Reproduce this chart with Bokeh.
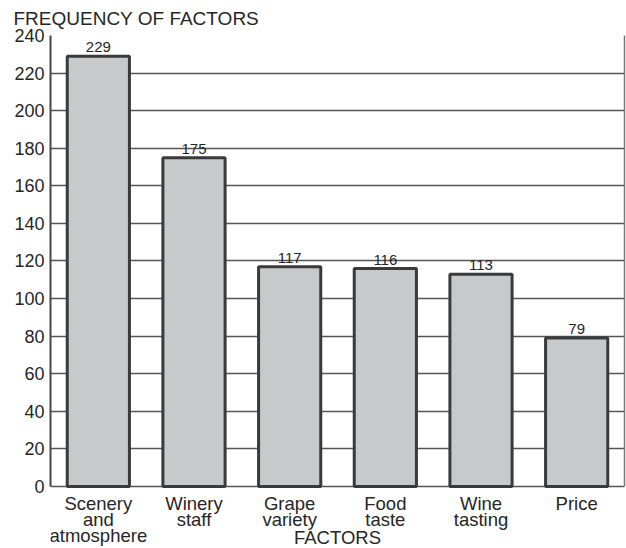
from bokeh.plotting import figure
from bokeh.models import Range1d, FactorRange, ColumnDataSource, LinearAxis
from bokeh.embed import file_html
from bokeh.resources import INLINE
from bokeh.core.properties import value

categories = ["Scenery\nand\natmosphere", "Winery\nstaff", "Grape\nvariety",
              "Food\ntaste", "Wine\ntasting", "Price"]
frequencies = [229, 175, 117, 116, 113, 79]
y_ticks = [0, 20, 40, 60, 80, 100, 120, 140, 160, 180, 200, 220, 240]
title_text = "FREQUENCY OF FACTORS"
x_title = "FACTORS"

FONT = "Liberation Sans"
TXT = "#262626"
Y_MAX = y_ticks[-1]
Y_MIN = -33  # room below the zero line for the category labels

src = ColumnDataSource(dict(cat=categories, val=frequencies,
                            lab=[str(v) for v in frequencies],
                            base=[0] * len(categories)))

p = figure(width=626, height=548, output_backend="svg", toolbar_location=None,
           x_range=FactorRange(*categories, range_padding=0),
           y_range=Range1d(Y_MIN, Y_MAX),
           min_border_left=50, min_border_right=2,
           min_border_top=35, min_border_bottom=0)

p.vbar(x="cat", top="val", bottom="base", width=0.65, source=src,
       fill_color="#c8c9cb", line_color="#3a3a3a", line_width=3)
p.text(x="cat", y="val", text="lab", source=src, y_offset=-4,
       text_align="center", text_baseline="bottom",
       text_font=value(FONT), text_font_size="15px", text_color=TXT)
# category labels under the zero line
p.text(x="cat", y="base", text="cat", source=src, y_offset=7,
       text_align="center", text_baseline="top", text_line_height=0.76,
       text_font=value(FONT), text_font_size="18.5px", text_color=TXT)
# axis title
p.text(x=[len(categories) / 2], y=[0], text=[x_title], y_offset=51,
       text_align="center", text_baseline="alphabetic",
       text_font=value(FONT), text_font_size="18.5px", text_color=TXT)

p.outline_line_color = None
p.xaxis.visible = False
p.xgrid.grid_line_color = None
p.ygrid.grid_line_color = "#555555"
p.ygrid.grid_line_width = 1.3
p.ygrid.ticker = y_ticks

p.yaxis.ticker = y_ticks
p.yaxis.bounds = (0, Y_MAX)
p.yaxis.axis_line_color = "#444444"
p.yaxis.axis_line_width = 2
p.yaxis.major_tick_line_color = None
p.yaxis.minor_tick_line_color = None
p.yaxis.major_label_text_font = FONT
p.yaxis.major_label_text_color = TXT
p.yaxis.major_label_text_font_size = "18px"
p.yaxis.major_label_standoff = 0

right = LinearAxis(bounds=(0, Y_MAX), ticker=[],
                   axis_line_color="#777777", axis_line_width=1.5,
                   major_tick_line_color=None, minor_tick_line_color=None,
                   major_label_standoff=0)
p.add_layout(right, "right")

p.title.text = title_text
p.title.align = "left"
p.title.offset = -37
p.title.vertical_align = "top"
p.title.text_font = FONT
p.title.text_font_size = "19px"
p.title.text_font_style = "normal"
p.title.text_color = TXT

open("out.html", "w").write(file_html(p, INLINE))
